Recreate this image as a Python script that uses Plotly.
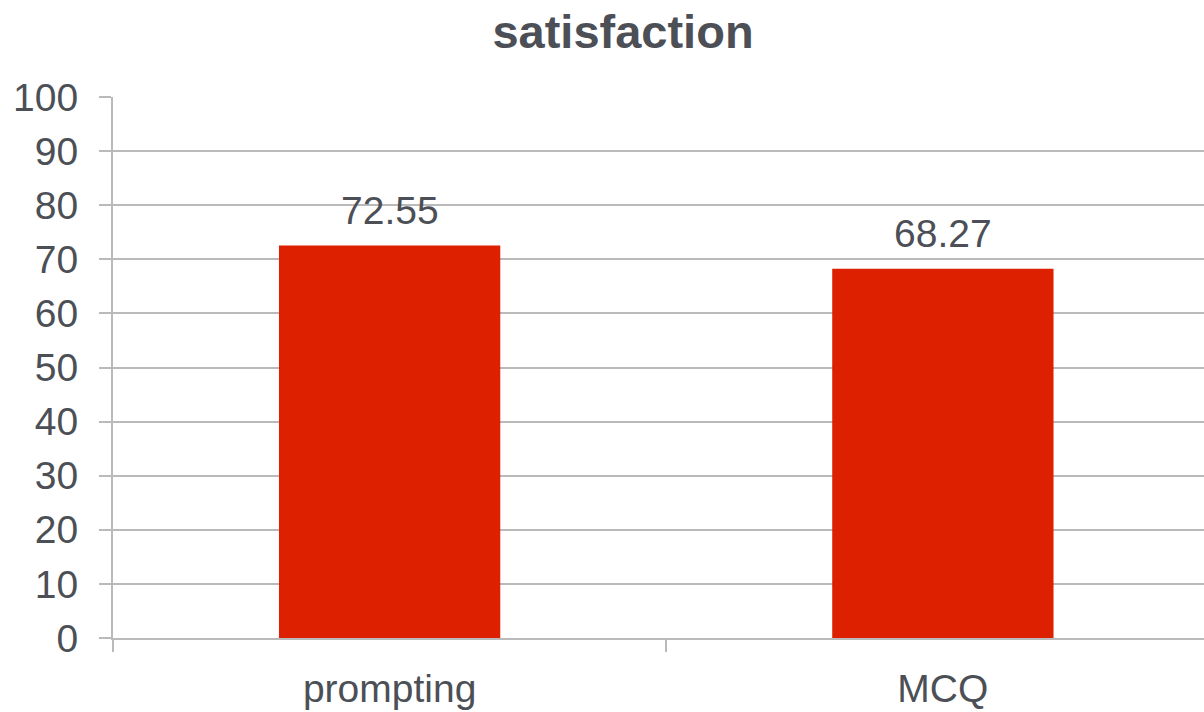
import plotly.graph_objects as go

categories = ["prompting", "MCQ"]
values = [72.55, 68.27]
value_labels = ["72.55", "68.27"]
y_ticks = [0, 10, 20, 30, 40, 50, 60, 70, 80, 90, 100]

TEXT = "#4c4f56"
GRID = "#bababa"
FONT = "Liberation Sans, Arial, sans-serif"

fig = go.Figure()
fig.add_trace(go.Bar(
    x=categories, y=values, width=0.4,
    marker=dict(color="#dc2000", line=dict(width=0)),
    hoverinfo="skip",
))

for c, v, t in zip(categories, values, value_labels):
    fig.add_annotation(x=c, y=v, text=t, showarrow=False, yanchor="bottom",
                       yshift=12, font=dict(family=FONT, size=39, color=TEXT))

fig.update_layout(
    width=1204, height=712,
    margin=dict(l=113, r=0, t=97, b=74, pad=0),
    paper_bgcolor="white", plot_bgcolor="white",
    showlegend=False,
    title=dict(text="<b>satisfaction</b>", x=623/1204, xref="container", xanchor="center",
               y=1-32/712, yref="container", yanchor="middle",
               font=dict(family=FONT, size=47, color=TEXT)),
    xaxis=dict(type="category", range=[-0.5, 1.472], tickson="boundaries",
               ticks="outside", ticklen=12, tickwidth=2, tickcolor=GRID,
               showline=True, linecolor=GRID, linewidth=2, showgrid=False,
               tickfont=dict(family=FONT, size=39, color=TEXT), ticklabelstandoff=15),
    yaxis=dict(range=[0, 100], tickvals=y_ticks, ticks="outside", ticklen=12,
               tickwidth=2, tickcolor=GRID, showline=True, linecolor=GRID, linewidth=2,
               showgrid=True, gridcolor=GRID, gridwidth=2, zeroline=False,
               tickfont=dict(family=FONT, size=39, color=TEXT), ticklabelstandoff=13),
)

fig.write_html("out.html")
